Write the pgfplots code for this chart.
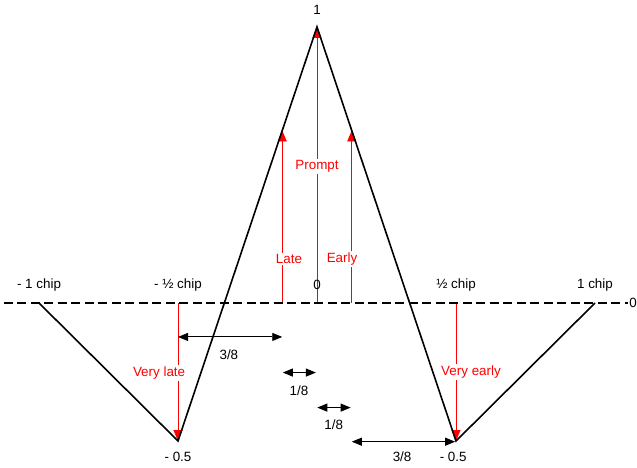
\documentclass[border=0pt]{standalone}
\usepackage{pgfplots}
\pgfplotsset{compat=1.18}
\usepackage{fontspec}
\setmainfont{Liberation Sans}
\usetikzlibrary{arrows.meta}

\tikzset{
  redarrow/.style={red, line width=0.8bp, -{Triangle[length=11bp,width=9bp]}},
  span/.style={black, line width=0.9bp, {Triangle[length=10bp,width=8bp]}-{Triangle[length=10bp,width=8bp]}},
  redlabel/.style={text=red, fill=white, inner sep=1.5bp},
  lbl/.style={font=\fontsize{13.4bp}{16bp}\selectfont},
}

\begin{document}
\begin{tikzpicture}[font=\fontsize{13.4bp}{16bp}\selectfont]
\useasboundingbox (0,0) rectangle (637bp,468bp);
\begin{axis}[
  at={(0,0)}, anchor=south west,
  scale only axis, width=637bp, height=468bp,
  xmin=-1.1403, xmax=1.1511, ymin=-0.5978, ymax=1.0978,
  hide axis, clip=false,
]
% correlator taps
\addplot[redarrow] coordinates {(0,0) (0,1)};
\addplot[redarrow] coordinates {(-0.125,0) (-0.125,0.625)};
\addplot[redarrow] coordinates {(0.125,0) (0.125,0.625)};
\addplot[redarrow] coordinates {(-0.5,0) (-0.5,-0.5)};
\addplot[redarrow] coordinates {(0.5,0) (0.5,-0.5)};

% zero level
\addplot[black, line width=1.6bp, dash pattern=on 9bp off 4.5bp] coordinates {(-1.126,0) (1.117,0)};

% BOC(1,1) autocorrelation
\addplot[black, line width=1.6bp] coordinates {(-1,0) (-0.5,-0.5) (0,1) (0.5,-0.5) (1,0)};

% spacings
\addplot[span] coordinates {(-0.5,-0.123) (-0.125,-0.123)};
\addplot[span] coordinates {(-0.123,-0.252) (-0.004,-0.252)};
\addplot[span] coordinates {(0.001,-0.379) (0.121,-0.379)};
\addplot[span] coordinates {(0.125,-0.5025) (0.497,-0.5025)};

% labels
\node[lbl] at (axis cs:-1,0.065) {- 1 chip};
\node[lbl] at (axis cs:-0.5,0.065) {- ½ chip};
\node[lbl] at (axis cs:0,0.065) {0};
\node[lbl] at (axis cs:0.5,0.065) {½ chip};
\node[lbl] at (axis cs:1,0.065) {1 chip};
\node[lbl] at (axis cs:0,1.062) {1};
\node[lbl, anchor=west, inner sep=0pt] at (axis cs:1.1225,0) {0};
\node[lbl] at (axis cs:-0.5,-0.558) {- 0.5};
\node[lbl] at (axis cs:0.49,-0.558) {- 0.5};
\node[lbl] at (axis cs:-0.317,-0.188) {3/8};
\node[lbl] at (axis cs:-0.065,-0.318) {1/8};
\node[lbl] at (axis cs:0.06,-0.442) {1/8};
\node[lbl] at (axis cs:0.306,-0.558) {3/8};

\node[lbl, redlabel] at (axis cs:0,0.496) {Prompt};
\node[lbl, redlabel] at (axis cs:-0.101,0.159) {Late};
\node[lbl, redlabel] at (axis cs:0.09,0.159) {Early};
\node[lbl, redlabel] at (axis cs:-0.568,-0.254) {Very late};
\node[lbl, redlabel] at (axis cs:0.554,-0.25) {Very early};
\end{axis}
\end{tikzpicture}
\end{document}
